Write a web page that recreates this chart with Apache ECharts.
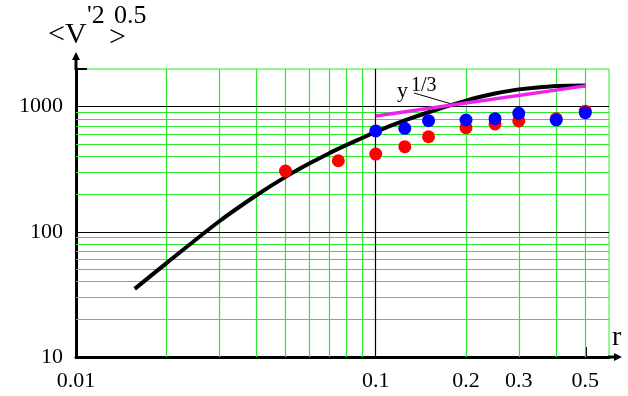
<!DOCTYPE html>
<html>
<head>
<meta charset="utf-8">
<script src="https://cdn.jsdelivr.net/npm/echarts@6/dist/echarts.min.js"></script>
<style>
  html, body { margin: 0; padding: 0; background: #fff; }
  #chart { width: 628px; height: 396px; }
</style>
</head>
<body>
<div id="chart"></div>
<script>
// black model curve
const curveR = [0.0157, 0.02, 0.03, 0.04, 0.05, 0.06, 0.07, 0.08, 0.09, 0.1, 0.125, 0.15, 0.2, 0.25, 0.3, 0.4, 0.5];
const curveV = [35, 56, 121, 196, 275, 351, 425, 495, 562, 630, 776, 903, 1119, 1273, 1375, 1464, 1478];
// y^(1/3) line
const slopeR = [0.1, 0.5];
const slopeV = [843, 1466];
// measured points
const redR = [0.05, 0.075, 0.1, 0.125, 0.15, 0.2, 0.25, 0.3, 0.4, 0.5];
const redV = [306, 370, 418, 479, 575, 679, 728, 769, 800, 920];
const blueR = [0.1, 0.125, 0.15, 0.2, 0.25, 0.3, 0.4, 0.5];
const blueV = [640, 672, 773, 783, 802, 885, 783, 896];
// ticks and grid
const xLabels = [0.01, 0.1, 0.2, 0.3, 0.5];
const yLabels = [10, 100, 1000];
const xMinor = [0.02, 0.03, 0.04, 0.05, 0.06, 0.07, 0.08, 0.09, 0.2, 0.3, 0.4, 0.5];
const xMajor = [0.1];
const yMinor = [20, 30, 40, 50, 60, 70, 80, 90, 200, 300, 400, 500, 600, 700, 800, 900];
const yMajor = [100, 1000];

const serif = '"Liberation Serif", "DejaVu Serif", serif';
const green = '#2ee82e';

function pairs(xs, ys) {
  return xs.map((x, i) => [x, ys[i]]);
}
function fmt(v) {
  return String(parseFloat(Number(v).toPrecision(6)));
}

const chart = echarts.init(document.getElementById('chart'));

const gridLines = []
  .concat(xMinor.map(v => ({ xAxis: v, lineStyle: { color: green } })))
  .concat(yMinor.map(v => ({ yAxis: v, lineStyle: { color: green } })))
  .concat(xMajor.map(v => ({ xAxis: v, lineStyle: { color: '#000' } })))
  .concat(yMajor.map(v => ({ yAxis: v, lineStyle: { color: '#000' } })));

const option = {
  animation: false,
  grid: { left: 76, right: 19, top: 69, bottom: 39, show: true, borderColor: green, borderWidth: 1 },
  xAxis: {
    type: 'log', logBase: 10, min: 0.01, max: 0.6,
    axisLine: {
      lineStyle: { color: '#000', width: 3 },
      symbol: ['none', 'path://M4,0L8,8L5.5,8L5.5,14L2.5,14L2.5,8L0,8Z'],
      symbolSize: [8, 14], symbolOffset: [0, 6]
    },
    axisTick: { show: true, inside: true, length: 10, customValues: [0.5], lineStyle: { color: '#000', width: 2 } },
    splitLine: { show: false },
    axisLabel: { customValues: xLabels, margin: 13, fontSize: 22, color: '#000', fontFamily: serif, formatter: fmt },
    name: 'r', nameLocation: 'end', nameGap: 3,
    nameTextStyle: { fontSize: 28, fontFamily: serif, color: '#000', verticalAlign: 'bottom', align: 'left', padding: [0, 0, 5, 0] }
  },
  yAxis: {
    type: 'log', logBase: 10, min: 10, max: 2000,
    axisLine: {
      lineStyle: { color: '#000', width: 3 },
      symbol: ['none', 'path://M4,0L8,8L5.5,8L5.5,18L2.5,18L2.5,8L0,8Z'],
      symbolSize: [8, 18], symbolOffset: [0, 8]
    },
    axisTick: { show: true, inside: true, length: 11, customValues: [2000], lineStyle: { color: '#000', width: 2 } },
    splitLine: { show: false },
    axisLabel: { customValues: yLabels, margin: 13, fontSize: 22, color: '#000', fontFamily: serif, formatter: fmt }
  },
  graphic: [
    { type: 'text', style: { text: '<V', x: 48, y: 35.5, font: '30px ' + serif, fill: '#000', verticalAlign: 'middle' } },
    { type: 'text', style: { text: "'2", x: 87, y: 15.7, font: '26px ' + serif, fill: '#000', verticalAlign: 'middle' } },
    { type: 'text', style: { text: '>', x: 109, y: 38.5, font: '30px ' + serif, fill: '#000', verticalAlign: 'middle' } },
    { type: 'text', style: { text: '0.5', x: 114, y: 15.7, font: '26px ' + serif, fill: '#000', verticalAlign: 'middle' } },
    { type: 'text', style: { text: 'y', x: 397, y: 91.5, font: '22px ' + serif, fill: '#000', verticalAlign: 'middle' } },
    { type: 'text', style: { text: '1/3', x: 411, y: 85.3, font: '20px ' + serif, fill: '#000', verticalAlign: 'middle' } },
    { type: 'line', shape: { x1: 414, y1: 93, x2: 455, y2: 105 }, style: { stroke: '#000', lineWidth: 1 } }
  ],
  series: [
    {
      type: 'line', data: [], z: 1, silent: true,
      markLine: { silent: true, z: 1, symbol: ['none', 'none'], label: { show: false }, lineStyle: { width: 1.2, type: 'solid' }, data: gridLines }
    },
    {
      type: 'line', data: pairs(curveR, curveV), smooth: 0.3, showSymbol: false, z: 3,
      lineStyle: { color: '#000', width: 4 }
    },
    {
      type: 'line', data: pairs(slopeR, slopeV), showSymbol: false, z: 4,
      lineStyle: { color: '#ee22ee', width: 3.5 }
    },
    {
      type: 'scatter', data: pairs(redR, redV), symbolSize: 13, z: 5,
      itemStyle: { color: '#ff0000', opacity: 1 }
    },
    {
      type: 'scatter', data: pairs(blueR, blueV), symbolSize: 13, z: 6,
      itemStyle: { color: '#0000ff', opacity: 1 }
    }
  ]
};
chart.setOption(option);
</script>
</body>
</html>
